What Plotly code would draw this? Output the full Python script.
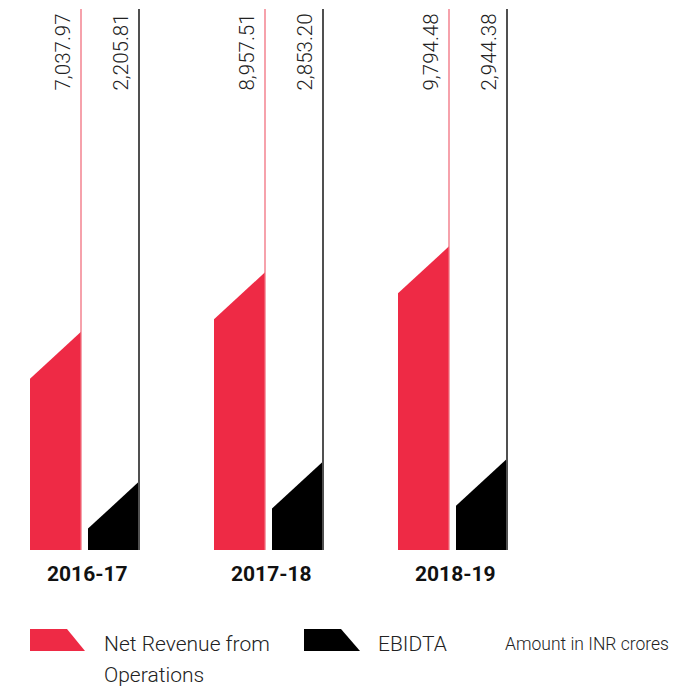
import plotly.graph_objects as go

# ---------------- data ----------------
years = ["2016-17", "2017-18", "2018-19"]
revenue = [7037.97, 8957.51, 9794.48]
ebidta = [2205.81, 2853.20, 2944.38]
revenue_labels = ["7,037.97", "8,957.51", "9,794.48"]
ebidta_labels = ["2,205.81", "2,853.20", "2,944.38"]

# ---------------- style / geometry ----------------
W, H = 700, 688
GROUP_PX = 184.0
FIRST_CENTER_PX = 84.5
BASE_PX = 550.0
PX_PER_UNIT = 0.031
BAR_PX = 51.0
GAP_PX = 7.0
SLANT_PX = 47.0
LINE_TOP_PX = 9.0

RED = "#EE2A45"
RED_LINE = "#F2707F"
BLACK = "#000000"
BLACK_LINE = "#505050"
FONT = "Roboto"

x0 = -FIRST_CENTER_PX / GROUP_PX
x1 = x0 + W / GROUP_PX
y_top = BASE_PX / PX_PER_UNIT
y_bot = -(H - BASE_PX) / PX_PER_UNIT
bw = BAR_PX / GROUP_PX
gap = GAP_PX / GROUP_PX
slant = SLANT_PX / PX_PER_UNIT
line_top = (BASE_PX - LINE_TOP_PX) / PX_PER_UNIT

fig = go.Figure()
annotations = []


def add_bar(xl, xr, v, fill, line_color, line_w, label):
    fig.add_trace(go.Scatter(
        x=[xl, xl, xr, xr, xl],
        y=[0, v - slant, v, 0, 0],
        fill="toself", fillcolor=fill, mode="lines",
        line=dict(width=0, color=fill), hoverinfo="skip", showlegend=False))
    fig.add_trace(go.Scatter(
        x=[xr, xr], y=[0, line_top], mode="lines",
        line=dict(width=line_w, color=line_color), hoverinfo="skip", showlegend=False))
    annotations.append(dict(
        x=xr, y=line_top, xref="x", yref="y", text=label, showarrow=False,
        textangle=-90, xanchor="right", yanchor="top", xshift=-5, yshift=-3,
        font=dict(family=FONT, size=20.5, color="#222222", weight=300)))


for i, year in enumerate(years):
    rl = i - gap / 2 - bw
    rr = i - gap / 2
    add_bar(rl, rr, revenue[i], RED, RED_LINE, 1.3, revenue_labels[i])
    el = i + gap / 2
    er = el + bw
    add_bar(el, er, ebidta[i], BLACK, BLACK_LINE, 2, ebidta_labels[i])
    annotations.append(dict(
        x=i, y=1 - 574 / H, xref="x", yref="paper", text=year, showarrow=False,
        xanchor="center", yanchor="middle", xshift=3,
        font=dict(family=FONT, size=21, color="#111111", weight=700)))


def px(xp, yp):
    return xp / W, 1 - yp / H


def path(points):
    s = ""
    for k, (a, b) in enumerate(points):
        xa, yb = px(a, b)
        s += ("M" if k == 0 else "L") + f"{xa},{yb} "
    return s + "Z"


shapes = [
    dict(type="path", xref="paper", yref="paper",
         path=path([(30, 629), (67, 629), (85, 651), (30, 651)]),
         fillcolor=RED, line=dict(width=0)),
    dict(type="path", xref="paper", yref="paper",
         path=path([(304, 629), (341, 629), (360, 651), (304, 651)]),
         fillcolor=BLACK, line=dict(width=0)),
]


def text_at(xp, yp, t, size):
    a, b = px(xp, yp)
    annotations.append(dict(
        x=a, y=b, xref="paper", yref="paper", text=t, showarrow=False,
        xanchor="left", yanchor="middle",
        font=dict(family=FONT, size=size, color="#222222", weight=300)))


text_at(102, 644, "Net Revenue from", 21)
text_at(102, 675, "Operations", 21)
text_at(376, 644, "EBIDTA", 21)
text_at(503, 644, "Amount in INR crores", 17.5)

fig.update_layout(
    width=W, height=H,
    margin=dict(l=0, r=0, t=0, b=0),
    paper_bgcolor="white", plot_bgcolor="white",
    xaxis=dict(range=[x0, x1], visible=False, fixedrange=True),
    yaxis=dict(range=[y_bot, y_top], visible=False, fixedrange=True),
    shapes=shapes,
    annotations=annotations,
    showlegend=False,
)

fig.write_html("out.html")
